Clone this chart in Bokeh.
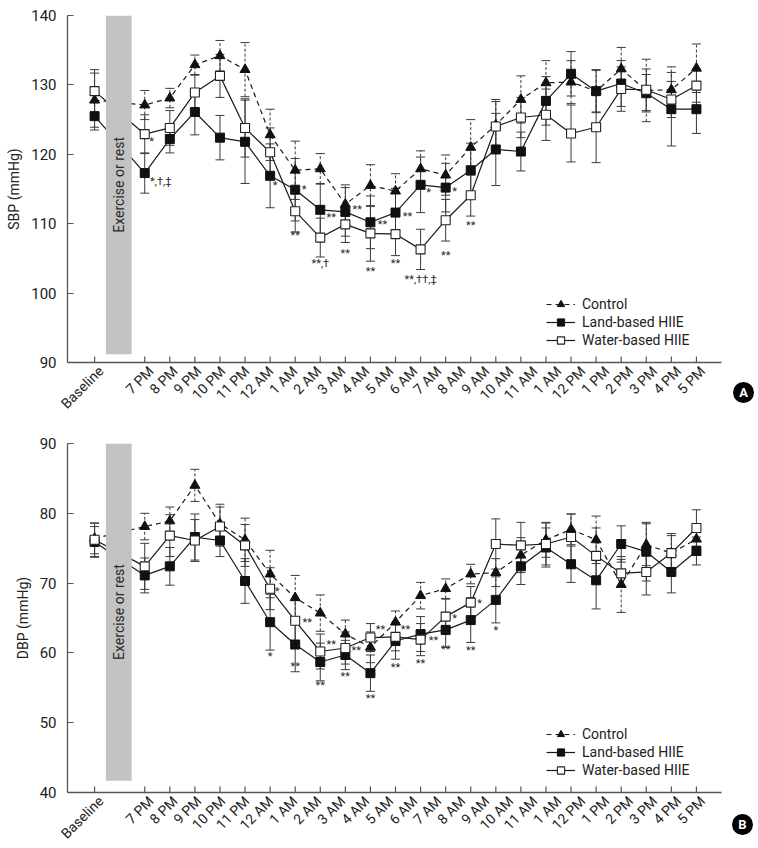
import numpy as np
from bokeh.plotting import figure
from bokeh.models import (FixedTicker, Range1d, BoxAnnotation, Label, Div,
                          Legend, LegendItem, ColumnDataSource)
from bokeh.layouts import column
from bokeh.embed import file_html
from bokeh.resources import INLINE
from bokeh.core.properties import value

# ---------------- data ----------------
time_labels = ["Baseline", "7 PM", "8 PM", "9 PM", "10 PM", "11 PM", "12 AM", "1 AM", "2 AM",
               "3 AM", "4 AM", "5 AM", "6 AM", "7 AM", "8 AM", "9 AM", "10 AM", "11 AM",
               "1 AM", "12 PM", "1 PM", "2 PM", "3 PM", "4 PM", "5 PM"]
series_names = ["Control", "Land-based HIIE", "Water-based HIIE"]

sbp_control = [127.8, 127.1, 128.1, 132.9, 134.2, 132.2, 122.8, 117.7, 117.9, 112.8, 115.5, 114.7,
               117.9, 117.0, 121.0, 124.2, 127.9, 130.3, 130.4, 129.1, 132.3, 129.2, 129.3, 132.4]
sbp_land = [125.5, 117.3, 122.2, 126.1, 122.4, 121.8, 116.9, 114.9, 112.0, 111.7, 110.2, 111.6,
            115.6, 115.2, 117.7, 120.7, 120.4, 127.7, 131.6, 129.1, 130.2, 128.8, 126.5, 126.5]
sbp_water = [129.1, 122.9, 123.8, 128.9, 131.3, 123.8, 120.3, 111.8, 108.0, 109.9, 108.6, 108.5,
             106.3, 110.5, 114.1, 124.0, 125.3, 125.7, 123.0, 123.9, 129.4, 129.3, 127.9, 129.9]
sbp_control_err = [3.9, 2.1, 1.4, 1.4, 2.2, 3.9, 3.7, 4.2, 2.2, 2.8, 3.0, 2.5,
                   2.6, 2.9, 4.0, 3.7, 3.4, 3.2, 3.1, 3.1, 3.1, 4.5, 3.3, 3.5]
sbp_land_err = [2.0, 2.9, 2.0, 3.3, 3.2, 6.0, 4.6, 4.5, 3.8, 3.5, 3.8, 3.5,
                4.0, 3.5, 3.9, 5.2, 2.8, 3.5, 3.2, 3.0, 3.3, 2.7, 5.3, 3.5]
sbp_water_err = [3.1, 2.8, 2.5, 2.5, 3.1, 4.2, 3.5, 3.0, 2.8, 2.6, 4.0, 3.1,
                 2.9, 3.0, 3.0, 3.6, 2.9, 3.7, 4.1, 5.1, 3.2, 3.0, 2.6, 2.4]

dbp_control = [76.4, 78.1, 78.9, 84.0, 78.5, 76.2, 71.3, 67.9, 65.7, 62.7, 60.8, 64.4,
               68.2, 69.2, 71.3, 71.5, 74.0, 76.2, 77.7, 76.2, 69.8, 75.5, 74.3, 76.3]
dbp_land = [75.9, 71.1, 72.4, 76.6, 76.1, 70.3, 64.4, 61.2, 58.7, 59.7, 57.1, 61.7,
            62.7, 63.3, 64.7, 67.6, 72.4, 75.1, 72.7, 70.4, 75.6, 74.5, 71.6, 74.6]
dbp_water = [76.2, 72.4, 76.8, 76.1, 78.1, 75.4, 69.2, 64.6, 60.2, 60.7, 62.2, 62.3,
             61.9, 65.2, 67.2, 75.6, 75.4, 75.6, 76.6, 73.9, 71.4, 71.6, 74.3, 77.9]
dbp_control_err = [2.2, 1.9, 2.0, 2.3, 2.8, 3.1, 3.4, 3.2, 2.6, 2.0, 2.2, 1.6,
                   1.9, 1.4, 1.4, 2.0, 2.5, 2.5, 2.2, 3.4, 4.0, 3.0, 2.5, 2.0]
dbp_land_err = [2.2, 2.5, 2.7, 3.3, 2.3, 3.2, 4.0, 3.9, 2.7, 2.1, 2.6, 2.6,
                2.5, 2.5, 3.2, 3.3, 2.6, 2.8, 2.6, 4.1, 2.6, 4.2, 3.0, 2.0]
dbp_water_err = [2.4, 3.3, 3.0, 3.0, 2.8, 3.0, 3.0, 3.0, 2.5, 2.3, 2.0, 2.0,
                 2.3, 2.5, 2.3, 3.6, 3.3, 3.0, 3.3, 4.0, 2.0, 3.3, 2.8, 2.6]

# significance marks: (series, point index, text, dx px, dy px)
sbp_marks = [("water", 1, "*", 7, 7), ("land", 1, "*,†,‡", 16, 8),
             ("land", 6, "*", 5, 10), ("land", 7, "*", 9, 0), ("water", 7, "**", 0, 24),
             ("land", 8, "**", 11, 8), ("water", 8, "**,†", 0, 26),
             ("land", 9, "**", 12, -2), ("water", 9, "**", 0, 29),
             ("land", 10, "**", 12, 2), ("water", 10, "**", 0, 38),
             ("land", 11, "**", 12, 4), ("water", 11, "**", 0, 29),
             ("land", 12, "*", 8, 8), ("water", 12, "**,††,‡", 0, 30),
             ("land", 13, "*", 9, 4), ("water", 13, "**", 0, 35),
             ("water", 14, "**", 0, 30)]
dbp_marks = [("water", 6, "*", 7, 3), ("land", 6, "*", 0, 34),
             ("water", 7, "**", 12, 2), ("land", 7, "**", 0, 22),
             ("water", 8, "**", 11, -7), ("land", 8, "**", 0, 24),
             ("water", 9, "**", 11, 2), ("land", 9, "**", 0, 22),
             ("water", 10, "**", 10, -8), ("land", 10, "**", 0, 25),
             ("water", 11, "**", 10, -7), ("land", 11, "**", 0, 26),
             ("water", 12, "**", 13, 1), ("land", 12, "**", 0, 29),
             ("water", 13, "*", 9, 2), ("land", 13, "**", 0, 20),
             ("water", 14, "*", 9, 1), ("land", 14, "**", 0, 30),
             ("land", 15, "*", 0, 31)]

# ---------------- layout ----------------
FONT = "Roboto"
FS = "14px"
n = len(sbp_control)
xs = np.array([0] + list(range(2, n + 1)), dtype=float)       # baseline, gap, then hourly
label_pos = [0.25] + list(np.linspace(2.25, n + 0.25, len(time_labels) - 1))
FRAME_W = 654


def panel(ylab, ylo, yhi, ctrl, land, water, cerr, lerr, werr, marks,
          frame_h, border_top, border_bottom):
    p = figure(frame_width=FRAME_W, frame_height=frame_h, output_backend="svg",
               toolbar_location=None,
               x_range=Range1d(-1.08, 25.0), y_range=Range1d(ylo, yhi),
               min_border_left=67, min_border_right=35,
               min_border_top=border_top, min_border_bottom=border_bottom)
    p.outline_line_color = None
    p.xgrid.visible = False
    p.ygrid.visible = False
    px_y = (yhi - ylo) / frame_h   # data units per pixel (vertical)

    # y axis
    ya = p.yaxis[0]
    ya.ticker = FixedTicker(ticks=list(range(ylo, yhi + 1, 10)))
    ya.axis_label = ylab
    ya.axis_label_text_font = FONT
    ya.axis_label_text_font_style = "normal"
    ya.axis_label_text_font_size = FS
    ya.axis_label_text_color = "#222222"
    ya.axis_label_standoff = 6
    ya.major_label_text_font = FONT
    ya.major_label_text_font_size = "15px"
    ya.major_label_text_color = "#222222"
    ya.major_label_standoff = 11
    ya.major_tick_in = 6
    ya.major_tick_out = 0
    ya.minor_tick_line_color = None
    ya.axis_line_color = "#555555"
    ya.axis_line_width = 1.3
    ya.major_tick_line_color = "#555555"

    # x axis: line + rotated labels (tick marks drawn separately at data positions)
    xa = p.xaxis[0]
    xa.ticker = FixedTicker(ticks=label_pos)
    xa.major_label_overrides = {float(k): v for k, v in zip(label_pos, time_labels)}
    xa.major_tick_line_color = None
    xa.minor_tick_line_color = None
    xa.major_tick_in = 0
    xa.major_tick_out = 0
    xa.axis_line_color = "#555555"
    xa.axis_line_width = 1.3
    xa.major_label_orientation = np.pi / 4
    xa.major_label_standoff = 6
    xa.major_label_text_font = FONT
    xa.major_label_text_font_size = FS
    xa.major_label_text_color = "#222222"

    # x tick marks (inward), one per time point
    p.segment(x0=xs, y0=ylo, x1=xs, y1=ylo + 6 * px_y, line_color="#555555", line_width=1.2)

    groups = [("control", ctrl, cerr), ("land", land, lerr), ("water", water, werr)]
    vals = {}
    # error bars
    for name, v, e in groups:
        v = np.array(v)
        e = np.array(e)
        vals[name] = v
        dash = "3 2" if name == "control" else "solid"
        p.segment(x0=xs, y0=v - e, x1=xs, y1=v + e, line_color="#3a3a3a", line_width=1,
                  line_dash=dash)
        p.scatter(x=np.concatenate([xs, xs]), y=np.concatenate([v - e, v + e]), marker="dash",
                  size=9, line_color="#3a3a3a", line_width=1)

    # lines & markers
    rc_l = p.line(xs, vals["control"], line_color="#1a1a1a", line_width=1.2, line_dash="5 4")
    rc_m = p.scatter(xs, vals["control"], marker="triangle", size=10, fill_color="#111111",
                     line_color="#111111")
    rl_l = p.line(xs, vals["land"], line_color="#1a1a1a", line_width=1.2)
    rl_m = p.scatter(xs, vals["land"], marker="square", size=9, fill_color="#111111",
                     line_color="#111111")
    rw_l = p.line(xs, vals["water"], line_color="#1a1a1a", line_width=1.2)
    rw_m = p.scatter(xs, vals["water"], marker="square", size=9, fill_color="white",
                     line_color="#222222", line_width=1.1)
    items = [LegendItem(label=series_names[0], renderers=[rc_l, rc_m]),
             LegendItem(label=series_names[1], renderers=[rl_l, rl_m]),
             LegendItem(label=series_names[2], renderers=[rw_l, rw_m])]

    # significance marks
    src = ColumnDataSource(dict(x=[xs[i] for s, i, t, dx, dy in marks],
                                y=[vals[s][i] for s, i, t, dx, dy in marks],
                                text=[t for s, i, t, dx, dy in marks],
                                dx=[dx for s, i, t, dx, dy in marks],
                                dy=[dy for s, i, t, dx, dy in marks]))
    p.text(x="x", y="y", text="text", x_offset="dx", y_offset="dy", source=src,
           text_font=value(FONT), text_font_size="11px", text_color="#2a2a2a",
           text_align="center", text_baseline="middle")

    # exercise bar
    bar_bottom = ylo + (1.2 if ylo == 90 else 1.7)
    p.add_layout(BoxAnnotation(left=0.45, right=1.48, bottom=bar_bottom, top=yhi,
                               fill_color="#c3c3c3", fill_alpha=1.0, line_color=None))
    p.add_layout(Label(x=0.96, y=(bar_bottom + yhi) / 2, text="Exercise or rest", angle=np.pi / 2,
                       text_align="center", text_baseline="middle", text_font=FONT,
                       text_font_size="14px", text_color="#2a2a2a"))

    legend = Legend(items=items, location=(479, 13), border_line_color=None,
                    background_fill_alpha=0, padding=0, margin=0, spacing=0,
                    label_height=18, glyph_height=18, glyph_width=29, label_standoff=7,
                    label_text_font=FONT, label_text_font_size=FS,
                    label_text_color="#222222")
    p.add_layout(legend)
    return p


def badge(letter, left, top):
    return Div(text=letter, width=21, height=21,
               styles={"position": "absolute", "left": f"{left}px", "top": f"{top}px",
                       "width": "21px", "height": "21px", "border-radius": "50%",
                       "background-color": "black", "color": "white",
                       "font-family": "Roboto, sans-serif", "font-weight": "bold",
                       "font-size": "13px", "line-height": "21px", "text-align": "center"})


p1 = panel("SBP (mmHg)", 90, 140, sbp_control, sbp_land, sbp_water,
           sbp_control_err, sbp_land_err, sbp_water_err, sbp_marks, 347, 15, 58)
p2 = panel("DBP (mmHg)", 40, 90, dbp_control, dbp_land, dbp_water,
           dbp_control_err, dbp_land_err, dbp_water_err, dbp_marks, 349, 23, 48)

layout = column(p1, p2, badge("A", 728, 377), badge("B", 727, 809))
open("out.html", "w").write(file_html(layout, INLINE))
